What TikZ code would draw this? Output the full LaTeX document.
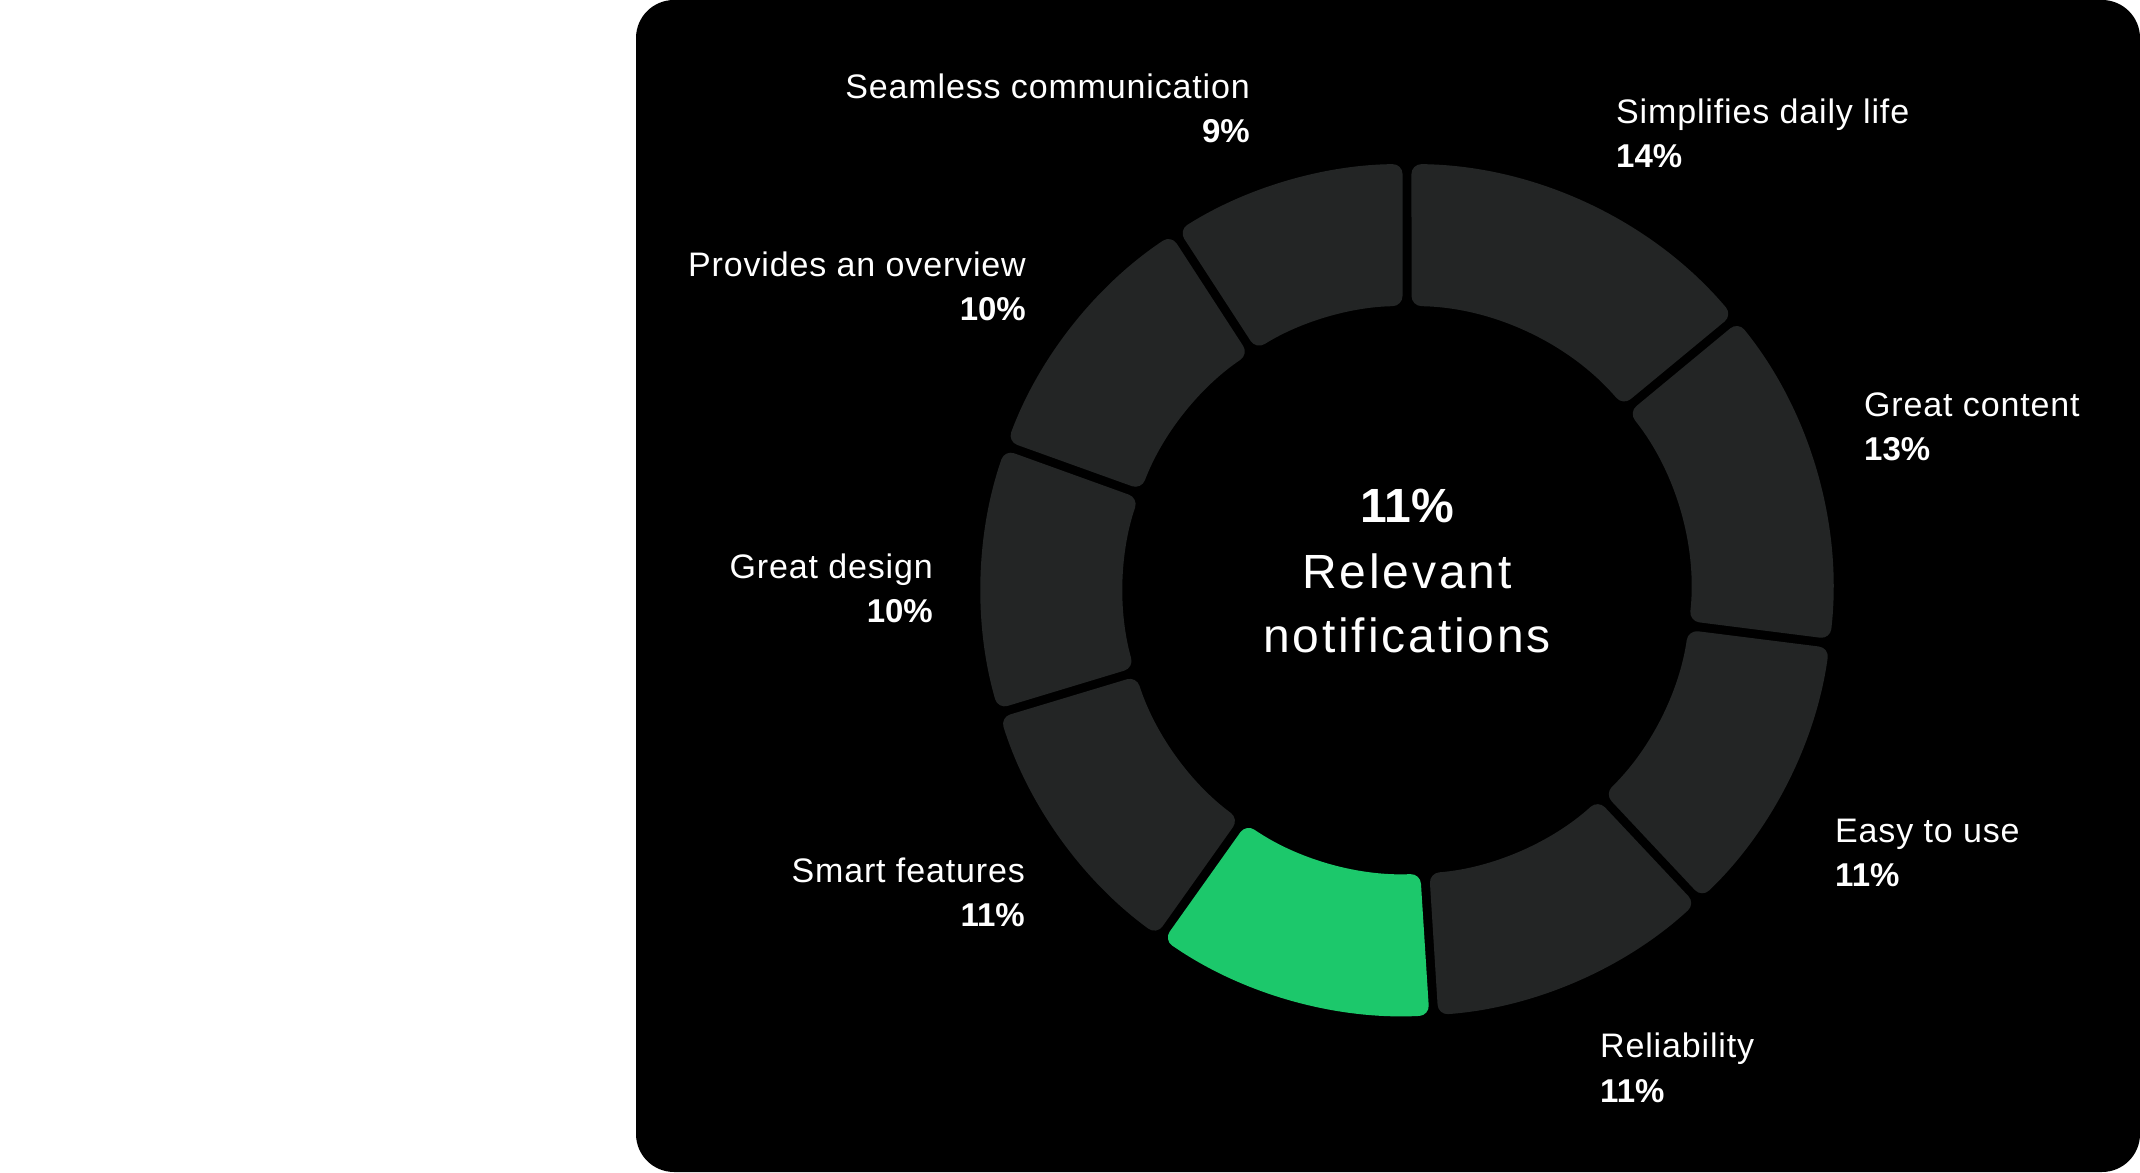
\documentclass[tikz,border=0pt]{standalone}
\usepackage{fontspec}
\setmainfont{Liberation Sans}
\definecolor{ringGray}{HTML}{232525}
\definecolor{ringGreen}{HTML}{1CC86B}
\tikzset{
  lbl/.style={text=white, inner sep=0pt, font=\fontsize{34}{40}\selectfont\addfontfeature{LetterSpace=2.5}},
  pct/.style={lbl, font=\fontsize{33}{40}\selectfont\bfseries},
  mid/.style={text=white, inner sep=0pt, font=\fontsize{48}{56}\selectfont\addfontfeature{LetterSpace=6}},
}
\begin{document}
\begin{tikzpicture}[x=1pt,y=1pt]
      \useasboundingbox (0,0) rectangle (2140,1172);
      \fill[white] (0,0) rectangle (2140,1172);
      \fill[black, rounded corners=38] (636,0) rectangle (2140,1172);
      % ring, clockwise from the top
      \begin{scope}[shift={(1407,582)}]
        \foreach \a/\b/\col in {90/39.6/ringGray, 39.6/-7.2/ringGray, -7.2/-46.8/ringGray,
            -46.8/-86.4/ringGray, -86.4/-125.4/ringGreen, -125.4/-163.2/ringGray,
            -163.2/-199.8/ringGray, -199.8/-237/ringGray, -237/-270/ringGray}
          \fill[\col, rounded corners=10] ({\a-0.6}:426) arc[start angle=\a-0.6, end angle=\b+0.6, radius=426]
            -- ({\b+0.91}:284) arc[start angle=\b+0.91, end angle=\a-0.91, radius=284] -- cycle;
      \end{scope}
      \node[mid, font=\fontsize{48}{56}\selectfont\bfseries, anchor=base] (cv) at (1407,649) {11\%};
      \node[mid, anchor=base] (c1) at (1407,583) {Relevant};
      \node[mid, anchor=base] (c2) at (1407,519) {notifications};
      % right side labels
      \node[lbl, anchor=base west] (simp) at (1616,1048) {Simplifies daily life};
      \node[pct, anchor=base west] (simpv) at ([yshift=-44]simp.base west) {14\%};
      \node[lbl, anchor=base west] (cont) at (1864,755) {Great content};
      \node[pct, anchor=base west] (contv) at ([yshift=-44]cont.base west) {13\%};
      \node[lbl, anchor=base west] (easy) at (1835,329) {Easy to use};
      \node[pct, anchor=base west] (easyv) at ([yshift=-44]easy.base west) {11\%};
      \node[lbl, anchor=base west] (rel) at (1600,114) {Reliability};
      \node[pct, anchor=base west] (relv) at ([yshift=-44]rel.base west) {11\%};
      % left side labels
      \node[lbl, anchor=base east] (seam) at (1250,1073) {Seamless communication};
      \node[pct, anchor=base east] (seamv) at ([yshift=-44]seam.base east) {9\%};
      \node[lbl, anchor=base east] (over) at (1026,895) {Provides an overview};
      \node[pct, anchor=base east] (overv) at ([yshift=-44]over.base east) {10\%};
      \node[lbl, anchor=base east] (des) at (933,593) {Great design};
      \node[pct, anchor=base east] (desv) at ([yshift=-44]des.base east) {10\%};
      \node[lbl, anchor=base east] (smart) at (1025,289) {Smart features};
      \node[pct, anchor=base east] (smartv) at ([yshift=-44]smart.base east) {11\%};
    \end{tikzpicture}
\end{document}
